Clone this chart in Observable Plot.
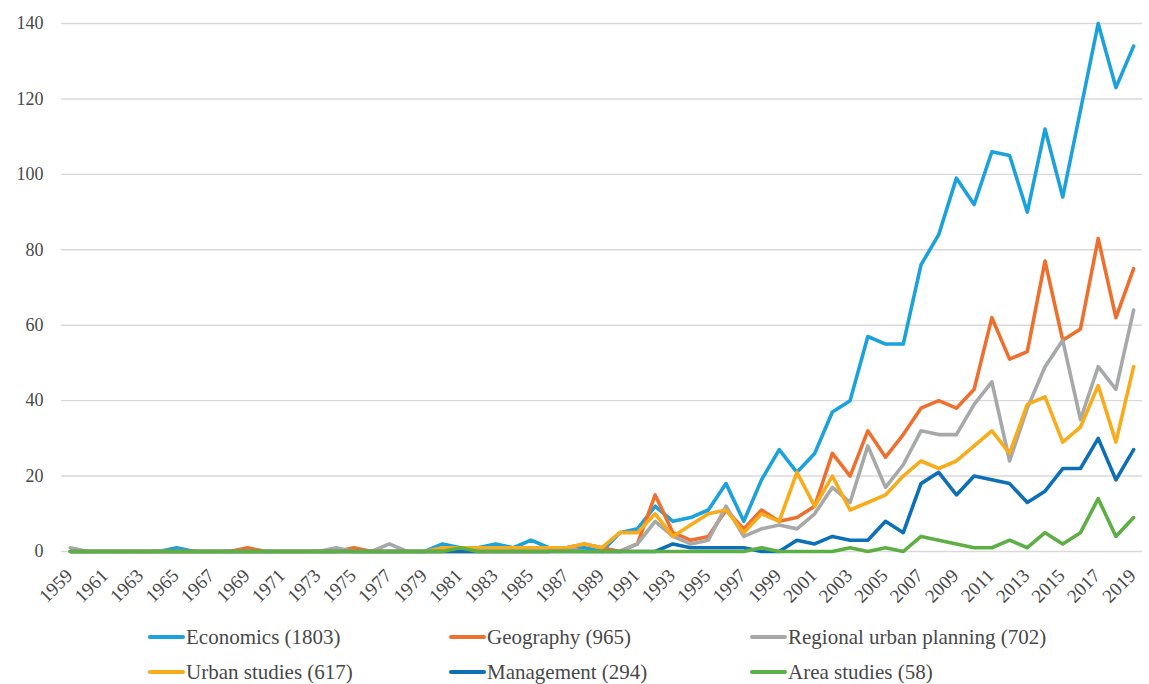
<!DOCTYPE html>
<html><head><meta charset="utf-8">
<script src="https://cdn.jsdelivr.net/npm/d3@7"></script>
<script src="https://cdn.jsdelivr.net/npm/@observablehq/plot@0.6"></script>
<style>
html,body{margin:0;padding:0;background:#fff;}
body{width:1149px;height:684px;position:relative;overflow:hidden;font-family:"Liberation Serif","Tinos","Times New Roman","DejaVu Serif",serif;}
#chart{position:absolute;left:0;top:0;}
#chart svg text{font-family:"Liberation Serif","Tinos","Times New Roman","DejaVu Serif",serif;}
.item{position:absolute;display:flex;align-items:center;font-size:21px;color:#484848;white-space:nowrap;line-height:1;}
.sw{display:inline-block;width:37px;height:4px;border-radius:2px;margin-right:1px;}
</style></head><body><div id="chart"></div><div id="legend"></div>
<script>
const years = d3.range(1959, 2020);
const yTicks = [0, 20, 40, 60, 80, 100, 120, 140];
const xTickYears = years.filter(y => y % 2 === 1);

const names = ["Economics (1803)", "Geography (965)", "Regional urban planning (702)",
               "Urban studies (617)", "Management (294)", "Area studies (58)"];
const colors = ["#1BA1DC", "#EE702E", "#A6A8A9", "#F8AB1B", "#0D70B7", "#5CAF43"];

// values 1959..2019
const economics = [
  0,0,0,0,0,0,1,0,0,0,
  0,0,0,0,0,0,0,0,0,0,
  0,2,1,1,2,1,3,1,1,1,
  0,5,6,12,8,9,11,18,8,19,
  27,21,26,37,40,57,55,55,76,84,
  99,92,106,105,90,112,94,117,140,123,134];
const geography = [
  0,0,0,0,0,0,0,0,0,0,
  1,0,0,0,0,0,1,0,0,0,
  0,0,0,0,0,0,0,0,1,2,
  1,0,2,15,5,3,4,11,6,11,
  8,9,12,26,20,32,25,31,38,40,
  38,43,62,51,53,77,56,59,83,62,75];
const regional = [
  1,0,0,0,0,0,0,0,0,0,
  0,0,0,0,0,1,0,0,2,0,
  0,0,0,0,0,0,0,0,1,0,
  0,0,2,8,4,2,3,12,4,6,
  7,6,10,17,13,28,17,23,32,31,
  31,39,45,24,38,49,56,35,49,43,64];
const urban = [
  0,0,0,0,0,0,0,0,0,0,
  0,0,0,0,0,0,0,0,0,0,
  0,1,1,1,1,1,1,1,1,2,
  1,5,5,10,4,7,10,11,5,10,
  8,21,12,20,11,13,15,20,24,22,
  24,28,32,26,39,41,29,33,44,29,49];
const management = [
  0,0,0,0,0,0,0,0,0,0,
  0,0,0,0,0,0,0,0,0,0,
  0,0,0,0,0,0,0,0,0,0,
  0,0,0,0,2,1,1,1,1,0,
  0,3,2,4,3,3,8,5,18,21,
  15,20,19,18,13,16,22,22,30,19,27];
const area = [
  0,0,0,0,0,0,0,0,0,0,
  0,0,0,0,0,0,0,0,0,0,
  0,0,1,0,0,0,0,0,0,0,
  0,0,0,0,0,0,0,0,0,1,
  0,0,0,0,1,0,1,0,4,3,
  2,1,1,3,1,5,2,5,14,4,9];

const seriesValues = [economics, geography, regional, urban, management, area];

const lineMarks = seriesValues.map((vals, k) =>
  Plot.line(years.map((y, i) => ({year: y, value: vals[i]})), {
    x: "year", y: "value", stroke: colors[k], strokeWidth: 3.6,
    strokeLinejoin: "round", strokeLinecap: "round"
  })
);

const FONT = "'Liberation Serif', 'Tinos', 'Times New Roman', 'DejaVu Serif', serif";
const chart = Plot.plot({
  width: 1149, height: 610,
  marginLeft: 61, marginRight: 7, marginTop: 23, marginBottom: 59,
  style: {fontFamily: FONT, color: "#484848", background: "#fff", overflow: "visible"},
  x: {type: "point", domain: years, padding: 0.5},
  y: {domain: [0, 140]},
  marks: [
    Plot.gridY(yTicks, {stroke: "#D9D9D9", strokeOpacity: 1, strokeWidth: 1.4}),
    Plot.axisY(yTicks, {tickSize: 0, tickPadding: 18, fontSize: 18, label: null}),
    Plot.axisX(xTickYears, {tickSize: 0, tickPadding: 6, tickRotate: -45, fontSize: 19, dy: 15, dx: -1, label: null, tickFormat: d => String(d)}),
    ...lineMarks
  ]
});
document.getElementById("chart").appendChild(chart);

const legendPos = [[148, 637], [449, 637], [750, 637], [148, 672], [449, 672], [750, 672]];
const legend = document.getElementById("legend");
names.forEach((n, k) => {
  const d = document.createElement("div");
  d.className = "item";
  d.style.left = legendPos[k][0] + "px";
  d.style.top = (legendPos[k][1] - 11) + "px";
  d.style.height = "22px";
  const s = document.createElement("span");
  s.className = "sw"; s.style.background = colors[k];
  d.appendChild(s);
  d.appendChild(document.createTextNode(n));
  legend.appendChild(d);
});
</script></body></html>
